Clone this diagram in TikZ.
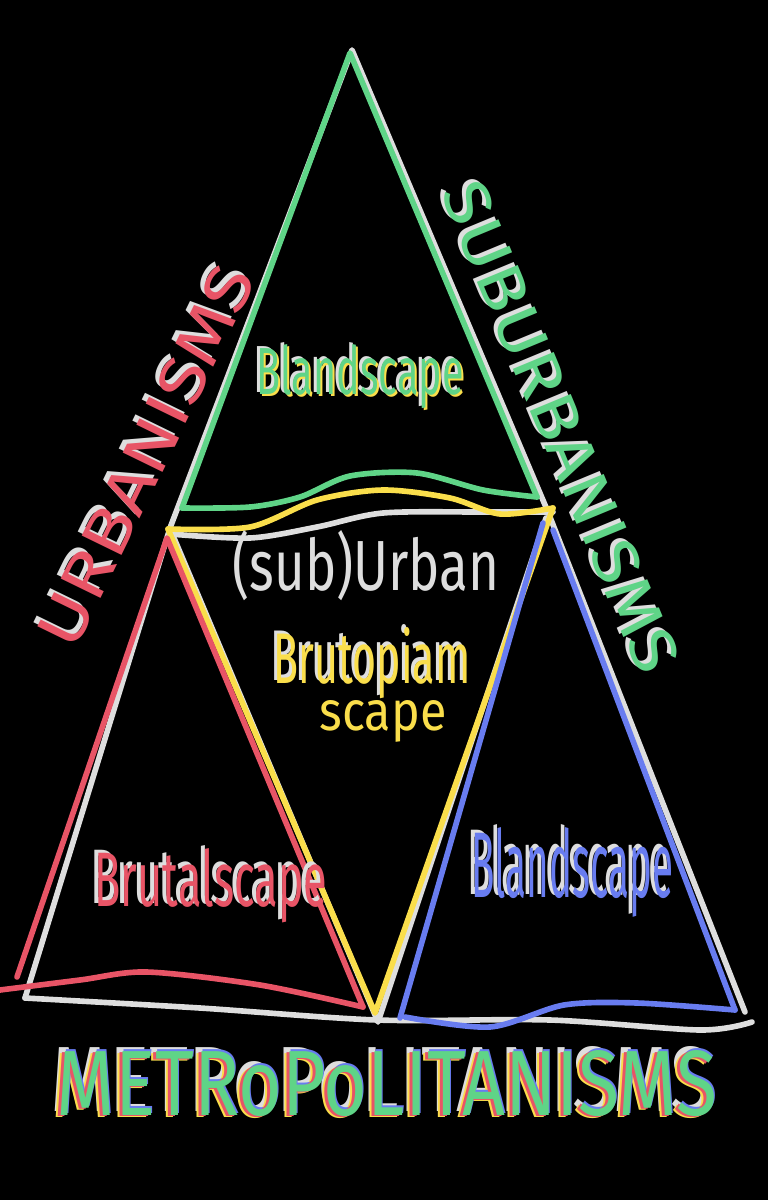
\documentclass[tikz,border=0pt]{standalone}
\usepackage{fontspec}
\setmainfont{Fira Sans}
\usetikzlibrary{positioning,calc}

\definecolor{chalk}{RGB}{222,222,222}
\definecolor{mint}{RGB}{95,212,135}
\definecolor{rose}{RGB}{232,84,102}
\definecolor{lemon}{RGB}{250,222,75}
\definecolor{iris}{RGB}{104,124,240}

% squeeze a word into a box of given width and height
\newcommand{\hand}[3]{\resizebox{#1}{#2}{#3}}

\begin{document}
\begin{tikzpicture}[
    x=0.02cm, y=-0.02cm,
    stroke/.style={line width=3.2pt, line cap=round, line join=round},
    outline/.style={stroke, chalk},
    word/.style={inner sep=0pt, anchor=base},
    sideword/.style={inner sep=0pt, anchor=center}
]

% Black sheet
\fill[black] (0,0) rectangle (768,1200);
\useasboundingbox (0,0) rectangle (768,1200);

% Outer white triangle
\draw[outline] (25,998) -- (170,528) -- (352,50) -- (548,512) -- (745,1012);
\draw[outline] plot[smooth] coordinates {(25,998) (200,1008) (377,1020) (550,1020) (700,1030) (752,1022)};

% Inner white triangle
\draw[outline] plot[smooth] coordinates {(170,534) (250,538) (317,527) (383,513) (483,512) (553,512)};
\draw[outline] (174,538) -- (378,1022) -- (546,518);

% Green triangle (top)
\draw[stroke, mint] (182,508) -- (350,53) -- (537,497);
\draw[stroke, mint] plot[smooth] coordinates {(182,508) (250,507) (300,497) (350,476) (417,473) (483,490) (537,497)};

% Yellow triangle (middle, upside down)
\draw[stroke, lemon] plot[smooth] coordinates {(168,529) (250,527) (317,500) (383,490) (450,498) (500,514) (553,508)};
\draw[stroke, lemon] (168,529) -- (375,1013) -- (553,508);

% Red triangle (left)
\draw[stroke, rose] (17,977) -- (167,538) -- (363,1007);
\draw[stroke, rose] plot[smooth] coordinates {(0,990) (80,980) (147,972) (260,985) (363,1007)};

% Blue triangle (right)
\draw[stroke, iris] (400,1018) -- (543,523);
\draw[stroke, iris] (553,530) -- (735,1010);
\draw[stroke, iris] plot[smooth] coordinates {(405,1017) (490,1027) (564,1005) (637,1003) (735,1010)};

% Words inside the triangles
\node[word, chalk] (blandTopShade) at (357,392) {\hand{4.14cm}{1.0cm}{Blandscape}};
\node[word, lemon] (blandTopMark) at (362,396) {\hand{4.14cm}{1.0cm}{Blandscape}};
\node[word, mint] (blandTop) at (360,394) {\hand{4.14cm}{1.0cm}{Blandscape}};

\node[word, chalk] (suburban) at (366,590) {\hand{5.34cm}{1.2cm}{(sub)Urban}};

\node[word, chalk] (brutopiamShade) at (369,680) {\hand{3.94cm}{1.12cm}{Brutopiam}};
\node[word, lemon] (brutopiam) at (372,683) {\hand{3.94cm}{1.12cm}{Brutopiam}};
\node[word, lemon] (brutoScape) at (383,730) {\hand{2.54cm}{0.6cm}{scape}};

\node[word, chalk] (brutalShade) at (207,903) {\hand{4.66cm}{1.16cm}{Brutalscape}};
\node[word, rose] (brutal) at (211,906) {\hand{4.66cm}{1.16cm}{Brutalscape}};

\node[word, chalk] (blandLowShade) at (568,894) {\hand{4.04cm}{1.4cm}{Blandscape}};
\node[word, iris] (blandLow) at (572,897) {\hand{4.04cm}{1.4cm}{Blandscape}};

% Words along the sides
\node[sideword, chalk, rotate=64] (urbanShade) at (142,452) {\hand{8.3cm}{0.9cm}{URBANISMS}};
\node[sideword, rose, rotate=64] (urban) at (146,456) {\hand{8.3cm}{0.9cm}{URBANISMS}};

\node[sideword, chalk, rotate=-67.5] (suburbShade) at (557,424) {\hand{10.5cm}{0.9cm}{SUBURBANISMS}};
\node[sideword, mint, rotate=-67.5] (suburb) at (561,427) {\hand{10.5cm}{0.9cm}{SUBURBANISMS}};

% Word under the base, in every colour
\node[word, chalk] (metroW) at (381,1111) {\hand{13.2cm}{1.3cm}{METRoPoLITANISMS}};
\node[word, lemon] (metroY) at (382,1117) {\hand{13.2cm}{1.3cm}{METRoPoLITANISMS}};
\node[word, iris] (metroB) at (388,1113) {\hand{13.2cm}{1.3cm}{METRoPoLITANISMS}};
\node[word, rose] (metroR) at (384,1116) {\hand{13.2cm}{1.3cm}{METRoPoLITANISMS}};
\node[word, mint] (metroG) at (387,1115) {\hand{13.2cm}{1.3cm}{METRoPoLITANISMS}};

\end{tikzpicture}
\end{document}
